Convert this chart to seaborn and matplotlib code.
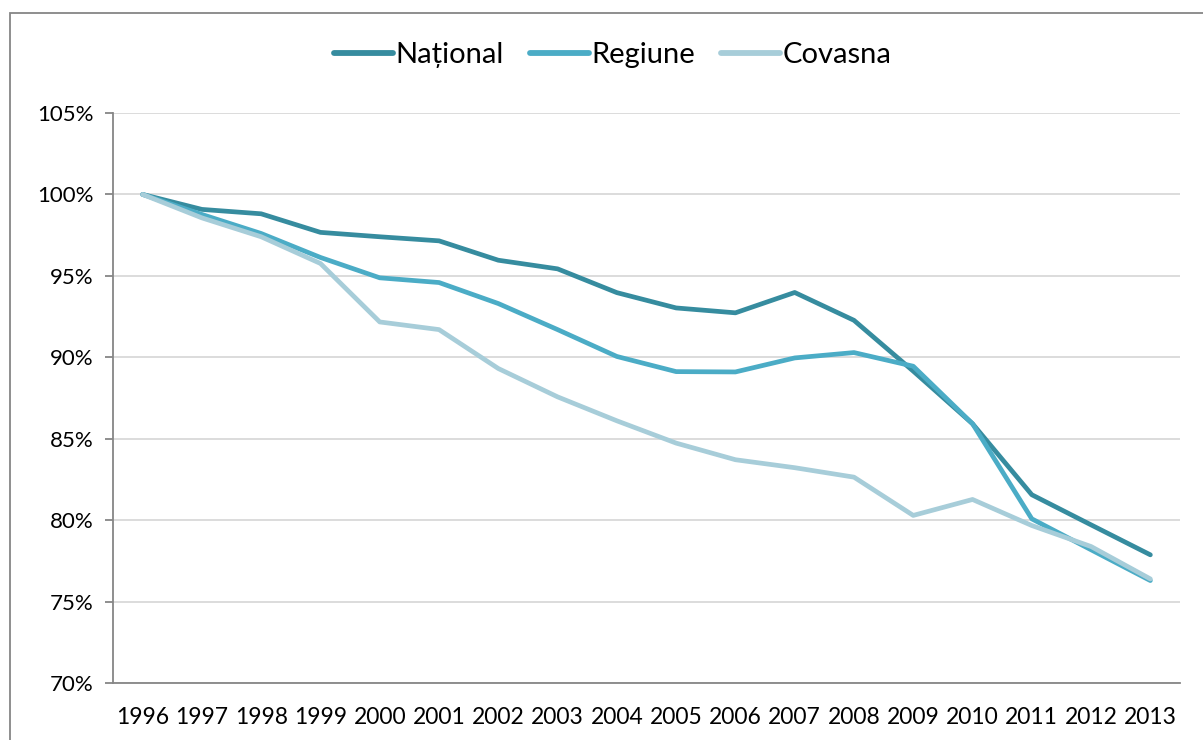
import matplotlib
matplotlib.use("Agg")
import matplotlib.pyplot as plt
import matplotlib.patches as mpatches
import seaborn as sns
import pandas as pd
import numpy as np
from matplotlib.ticker import FuncFormatter, FixedLocator

years = [1996, 1997, 1998, 1999, 2000, 2001, 2002, 2003, 2004,
         2005, 2006, 2007, 2008, 2009, 2010, 2011, 2012, 2013]
national = [100.0, 99.08, 98.81, 97.67, 97.40, 97.15, 95.96, 95.43, 93.97,
            93.03, 92.73, 93.98, 92.27, 89.15, 85.92, 81.56, 79.71, 77.87]
regiune = [100.0, 98.77, 97.60, 96.13, 94.88, 94.59, 93.30, 91.70, 90.05,
           89.12, 89.10, 89.96, 90.29, 89.45, 85.92, 80.08, 78.18, 76.29]
covasna = [100.0, 98.56, 97.40, 95.76, 92.17, 91.70, 89.31, 87.57, 86.10,
           84.73, 83.71, 83.22, 82.64, 80.29, 81.27, 79.67, 78.38, 76.39]
series_names = ["Național", "Regiune", "Covasna"]
colors = ["#368C9F", "#4BACC6", "#A7CDD9"]

idx = np.arange(len(years))
df = pd.concat([
    pd.DataFrame({"pos": idx, "val": vals, "serie": name})
    for name, vals in zip(series_names, [national, regiune, covasna])
])

sns.set_style("white")
plt.rcParams["font.family"] = ["Lato", "DejaVu Sans"]
plt.rcParams["text.color"] = "black"

fig = plt.figure(figsize=(12.03, 7.40), dpi=100)
ax = fig.add_axes([113/1203, 1-683/740, (1180-113)/1203, (683-113)/740])

sns.lineplot(data=df, x="pos", y="val", hue="serie", hue_order=series_names,
             palette=colors, linewidth=3.4, ax=ax, legend=False,
             solid_capstyle="round", solid_joinstyle="round")

ax.set_xlim(-0.5, len(years) - 0.5)
ax.set_ylim(70, 105)
ax.set_xlabel("")
ax.set_ylabel("")

ax.yaxis.set_major_locator(FixedLocator([70, 75, 80, 85, 90, 95, 100, 105]))
ax.yaxis.set_major_formatter(FuncFormatter(lambda v, p: f"{v:.0f}%"))
ax.grid(axis="y", color="#D9D9D9", linewidth=1.3)
ax.set_axisbelow(True)

ax.set_xticks(idx)
ax.set_xticklabels([str(y) for y in years])
ax.set_xticks(np.arange(-0.5, len(years), 1.0), minor=True)
ax.tick_params(axis="x", which="major", length=0, pad=17, labelsize=16.5, labelcolor="black")
ax.tick_params(axis="x", which="minor", length=6, width=1.3, color="#868686", direction="out")
ax.tick_params(axis="y", which="major", length=6, width=1.3, color="#868686",
               direction="out", pad=8, labelsize=16, labelcolor="black", left=True)

for s in ["top", "right"]:
    ax.spines[s].set_visible(False)
for s in ["left", "bottom"]:
    ax.spines[s].set_color("#868686")
    ax.spines[s].set_linewidth(1.3)

handles = [plt.Line2D([0], [0], color=c, linewidth=4.2, solid_capstyle="round") for c in colors]
leg = fig.legend(handles, series_names, loc="center", bbox_to_anchor=(0.5096, 1-55/740),
                 ncol=3, frameon=False, fontsize=21, handlelength=2.0, handletextpad=0.1,
                 columnspacing=0.9)
for t in leg.get_texts():
    t.set_color("black")

border = mpatches.Rectangle((10/1203, 1-13/740 - 1.0), 1.1, 1.0,
                            transform=fig.transFigure, fill=False,
                            edgecolor="#868686", linewidth=1.3, clip_on=False)
fig.patches.append(border)

fig.savefig("out.png", dpi=100)
